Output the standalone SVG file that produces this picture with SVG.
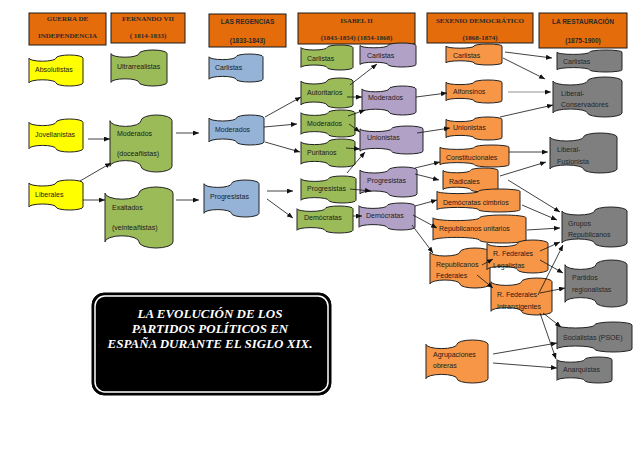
<svg xmlns="http://www.w3.org/2000/svg" xmlns:xlink="http://www.w3.org/1999/xlink" width="638" height="452" viewBox="0 0 638 452">
<style>
.hd{fill:#E46C0A;stroke:#1a1a1a;stroke-width:1}
.hs{font-family:"Liberation Serif",serif;font-weight:bold;font-size:7px;fill:#2a2a2a;text-anchor:middle}
.hn{font-family:"Liberation Sans",sans-serif;font-weight:bold;font-size:6.5px;fill:#2a2a2a;text-anchor:middle}
.t{font-family:"Liberation Sans",sans-serif;font-size:7px;fill:#1a1a1a}
.tg{font-family:"Liberation Sans",sans-serif;font-size:7px;fill:#262626}
.y{fill:#FFFF00;stroke:#222}
.g{fill:#9BBB59;stroke:#222}
.b{fill:#95B3D7;stroke:#222}
.p{fill:#B2A1C7;stroke:#222}
.o{fill:#F79646;stroke:#222}
.k{fill:#7F7F7F;stroke:#222}
.c line{stroke:#111;stroke-width:0.8;marker-end:url(#ah)}
.ttl{font-family:"Liberation Serif",serif;font-style:italic;font-weight:bold;font-size:13px;fill:#fff;text-anchor:middle}
</style>
<defs>
<path id="tape" vector-effect="non-scaling-stroke" stroke-width="1" d="M0,10 A25,10 0 0 0 50,10 A25,10 0 0 1 100,10 L100,90 A25,10 0 0 1 50,90 A25,10 0 0 0 0,90 Z"/>
<marker id="ah" markerWidth="6" markerHeight="5" refX="6" refY="2.5" orient="auto" markerUnits="userSpaceOnUse"><path d="M0,0 L6,2.5 L0,5 z" fill="#111"/></marker>
</defs>
<rect width="638" height="452" fill="#fff"/>

<g id="headers">
<g id="h-guerra"><rect class="hd" x="29" y="13" width="77" height="32"/><text class="hs" x="67.5" y="21">GUERRA DE</text><text class="hs" x="67.5" y="38">INDEPENDENCIA</text></g>
<g id="h-fernando"><rect class="hd" x="111" y="13" width="74" height="30"/><text class="hs" x="148" y="21">FERNANDO VII</text><text class="hs" x="148" y="38">( 1814-1833)</text></g>
<g id="h-regencias"><rect class="hd" x="209" y="14" width="77" height="33"/><text class="hn" x="247.5" y="24">LAS REGENCIAS</text><text class="hn" x="247.5" y="43">(1833-1843)</text></g>
<g id="h-isabel"><rect class="hd" x="298" y="13" width="117" height="31"/><text class="hs" x="356.5" y="23">ISABEL II</text><text class="hs" x="356.5" y="40">(1843-1854) (1854-1868)</text></g>
<g id="h-sexenio"><rect class="hd" x="427" y="13" width="106" height="30"/><text class="hs" x="480" y="23">SEXENIO  DEMOCRÁTICO</text><text class="hs" x="480" y="40">(1868-1874)</text></g>
<g id="h-restauracion"><rect class="hd" x="539" y="13" width="88" height="35"/><text class="hn" x="583" y="24">LA RESTAURACIÓN</text><text class="hn" x="583" y="43">(1875-1900)</text></g>
</g>

<g id="n-absolutistas"><use xlink:href="#tape" class="y" transform="translate(29 55) scale(0.54 0.31)"/><text class="t" x="35" y="72">Absolutistas</text></g>
<g id="n-jovellanistas"><use xlink:href="#tape" class="y" transform="translate(29 119) scale(0.54 0.33)"/><text class="t" x="35" y="137">Jovellanistas</text></g>
<g id="n-liberales"><use xlink:href="#tape" class="y" transform="translate(29 180) scale(0.54 0.30)"/><text class="t" x="35" y="197">Liberales</text></g>

<g id="n-ultrarrealistas"><use xlink:href="#tape" class="g" transform="translate(111 50) scale(0.56 0.36)"/><text class="t" x="117" y="69">Ultrarrealistas</text></g>
<g id="n-moderados-doce"><use xlink:href="#tape" class="g" transform="translate(110 115) scale(0.62 0.57)"/><text class="t" x="117" y="136">Moderados</text><text class="t" x="117" y="156">(doceañistas)</text></g>
<g id="n-exaltados"><use xlink:href="#tape" class="g" transform="translate(105 187) scale(0.68 0.61)"/><text class="t" x="112" y="210">Exaltados</text><text class="t" x="112" y="230">(veinteañistas)</text></g>

<g id="n-carlistas-reg"><use xlink:href="#tape" class="b" transform="translate(209 54) scale(0.54 0.28)"/><text class="t" x="215" y="70">Carlistas</text></g>
<g id="n-moderados-reg"><use xlink:href="#tape" class="b" transform="translate(209 115) scale(0.55 0.30)"/><text class="t" x="215" y="132">Moderados</text></g>
<g id="n-progresistas-reg"><use xlink:href="#tape" class="b" transform="translate(204 180) scale(0.55 0.37)"/><text class="t" x="210" y="199">Progresistas</text></g>

<g id="n-carlistas-is1"><use xlink:href="#tape" class="g" transform="translate(301 45) scale(0.52 0.25)"/><text class="t" x="307" y="61">Carlistas</text></g>
<g id="n-autoritarios"><use xlink:href="#tape" class="g" transform="translate(301 78) scale(0.52 0.30)"/><text class="t" x="307" y="94.5">Autoritarios</text></g>
<g id="n-moderados-is1"><use xlink:href="#tape" class="g" transform="translate(301 110) scale(0.54 0.27)"/><text class="t" x="307" y="126">Moderados</text></g>
<g id="n-puritanos"><use xlink:href="#tape" class="g" transform="translate(301 139) scale(0.54 0.28)"/><text class="t" x="307" y="154.5">Puritanos</text></g>
<g id="n-progresistas-is1"><use xlink:href="#tape" class="g" transform="translate(301 176) scale(0.55 0.27)"/><text class="t" x="307" y="190.5">Progresistas</text></g>
<g id="n-democratas-is1"><use xlink:href="#tape" class="g" transform="translate(297 206) scale(0.56 0.27)"/><text class="t" x="304" y="219.5">Demócratas</text></g>

<g id="n-carlistas-is2"><use xlink:href="#tape" class="p" transform="translate(360 43) scale(0.56 0.24)"/><text class="t" x="367" y="57.5">Carlistas</text></g>
<g id="n-moderados-is2"><use xlink:href="#tape" class="p" transform="translate(362 86) scale(0.54 0.29)"/><text class="t" x="368" y="99.5">Moderados</text></g>
<g id="n-unionistas-is2"><use xlink:href="#tape" class="p" transform="translate(360 126) scale(0.63 0.28)"/><text class="t" x="367" y="139.5">Unionistas</text></g>
<g id="n-progresistas-is2"><use xlink:href="#tape" class="p" transform="translate(360 167) scale(0.57 0.30)"/><text class="t" x="367" y="182.5">Progresistas</text></g>
<g id="n-democratas-is2"><use xlink:href="#tape" class="p" transform="translate(359 203) scale(0.56 0.27)"/><text class="t" x="366" y="217.5">Demócratas</text></g>

<g id="n-carlistas-sex"><use xlink:href="#tape" class="o" transform="translate(446 44) scale(0.56 0.21)"/><text class="t" x="453" y="57.5">Carlistas</text></g>
<g id="n-alfonsinos"><use xlink:href="#tape" class="o" transform="translate(446 80) scale(0.56 0.23)"/><text class="t" x="453" y="93.5">Alfonsinos</text></g>
<g id="n-unionistas-sex"><use xlink:href="#tape" class="o" transform="translate(446 117) scale(0.56 0.23)"/><text class="t" x="453" y="130">Unionistas</text></g>
<g id="n-constitucionales"><use xlink:href="#tape" class="o" transform="translate(440 145) scale(0.69 0.22)"/><text class="t" x="446" y="159.5">Constitucionales</text></g>
<g id="n-radicales"><use xlink:href="#tape" class="o" transform="translate(443 168) scale(0.55 0.24)"/><text class="t" x="449" y="183.5">Radicales</text></g>
<g id="n-democratas-cimbrios"><use xlink:href="#tape" class="o" transform="translate(437 189) scale(0.83 0.23)"/><text class="t" x="443" y="204.5">Demócratas cimbrios</text></g>
<g id="n-rep-unitarios"><use xlink:href="#tape" class="o" transform="translate(433 215) scale(0.93 0.28)"/><text class="t" x="439" y="230.5">Republicanos unitarios</text></g>
<g id="n-rep-federales"><use xlink:href="#tape" class="o" transform="translate(430 248) scale(0.60 0.40)"/><text class="t" x="436" y="266.5">Republicanos</text><text class="t" x="436" y="278">Federales</text></g>
<g id="n-rf-legalistas"><use xlink:href="#tape" class="o" transform="translate(487 240) scale(0.61 0.33)"/><text class="t" x="493" y="255.5">R. Federales</text><text class="t" x="493" y="267.5">Legalistas</text></g>
<g id="n-rf-intransigentes"><use xlink:href="#tape" class="o" transform="translate(491 278) scale(0.61 0.37)"/><text class="t" x="497" y="296.5">R. Federales</text><text class="t" x="497" y="308.5">Intransigentes</text></g>
<g id="n-agrupaciones"><use xlink:href="#tape" class="o" transform="translate(426 340) scale(0.62 0.43)"/><text class="t" x="433" y="356.5">Agrupaciones</text><text class="t" x="433" y="367.5">obreras</text></g>

<g id="n-carlistas-res"><use xlink:href="#tape" class="k" transform="translate(557 50) scale(0.65 0.22)"/><text class="tg" x="563" y="63.5">Carlistas</text></g>
<g id="n-liberal-conservadores"><use xlink:href="#tape" class="k" transform="translate(553 77) scale(0.69 0.40)"/><text class="tg" x="561" y="95.5">Liberal-</text><text class="tg" x="561" y="106.5">Conservadores</text></g>
<g id="n-liberal-fusionista"><use xlink:href="#tape" class="k" transform="translate(550 133) scale(0.67 0.40)"/><text class="tg" x="557" y="151.5">Liberal-</text><text class="tg" x="557" y="163.5">Fusionista</text></g>
<g id="n-grupos-republicanos"><use xlink:href="#tape" class="k" transform="translate(562 207) scale(0.65 0.40)"/><text class="tg" x="568" y="225.5">Grupos</text><text class="tg" x="568" y="236.5">Republicanos</text></g>
<g id="n-partidos-regionalistas"><use xlink:href="#tape" class="k" transform="translate(565 260) scale(0.62 0.47)"/><text class="tg" x="572" y="279.5">Partidos</text><text class="tg" x="572" y="291.5">regionalistas</text></g>
<g id="n-socialistas"><use xlink:href="#tape" class="k" transform="translate(557 322) scale(0.75 0.30)"/><text class="tg" x="563" y="339.5">Socialistas (PSOE)</text></g>
<g id="n-anarquistas"><use xlink:href="#tape" class="k" transform="translate(557 357) scale(0.55 0.26)"/><text class="tg" x="563" y="371.5">Anarquistas</text></g>

<g id="connectors" class="c">
<line x1="88" y1="139" x2="110" y2="139"/>
<line x1="80" y1="181" x2="111" y2="163"/>
<line x1="83" y1="200" x2="105" y2="200"/>
<line x1="176" y1="133" x2="199" y2="133"/>
<line x1="176" y1="200" x2="199" y2="200"/>
<line x1="265" y1="117" x2="301" y2="97"/>
<line x1="264" y1="127" x2="297" y2="124"/>
<line x1="265" y1="142" x2="300" y2="152"/>
<line x1="267" y1="191" x2="293" y2="191"/>
<line x1="267" y1="199" x2="293" y2="218"/>
<line x1="350" y1="85" x2="377" y2="64"/>
<line x1="347" y1="97" x2="362" y2="97"/>
<line x1="348" y1="116" x2="365" y2="110"/>
<line x1="349" y1="124" x2="360" y2="132"/>
<line x1="346" y1="148" x2="360" y2="149"/>
<line x1="347" y1="173" x2="365" y2="152"/>
<line x1="350" y1="189" x2="371" y2="191"/>
<line x1="353" y1="216" x2="362" y2="216"/>
<line x1="416" y1="97" x2="447" y2="93"/>
<line x1="417" y1="133" x2="450" y2="128"/>
<line x1="415" y1="168" x2="440" y2="162"/>
<line x1="415" y1="174" x2="439" y2="180"/>
<line x1="415" y1="206" x2="437" y2="200"/>
<line x1="413" y1="215" x2="437" y2="228"/>
<line x1="412" y1="225" x2="433" y2="253"/>
<line x1="505" y1="52" x2="552" y2="58"/>
<line x1="503" y1="58" x2="545" y2="79"/>
<line x1="508" y1="92" x2="551" y2="92" style="stroke:#777"/>
<line x1="500" y1="117" x2="553" y2="105"/>
<line x1="509" y1="152" x2="548" y2="152"/>
<line x1="500" y1="176" x2="546" y2="162"/>
<line x1="508" y1="180" x2="560" y2="212"/>
<line x1="522" y1="205" x2="557" y2="220"/>
<line x1="527" y1="230" x2="560" y2="228"/>
<line x1="482" y1="265" x2="493" y2="259"/>
<line x1="477" y1="275" x2="493" y2="288"/>
<line x1="540" y1="251" x2="560" y2="242"/>
<line x1="540" y1="260" x2="563" y2="273"/>
<line x1="538" y1="295" x2="563" y2="245"/>
<line x1="540" y1="293" x2="565" y2="288"/>
<line x1="543" y1="313" x2="561" y2="327"/>
<line x1="540" y1="313" x2="556" y2="359"/>
<line x1="493" y1="354" x2="557" y2="343"/>
<line x1="493" y1="363" x2="557" y2="368"/>
</g>

<g id="title">
<rect x="92" y="293" width="239" height="102" rx="12" fill="#000" stroke="#000" stroke-width="1"/>
<rect x="95" y="296" width="233" height="96" rx="10" fill="none" stroke="#fff" stroke-width="1.5"/>
<text class="ttl" x="210" y="318">LA EVOLUCIÓN DE LOS</text>
<text class="ttl" x="210" y="333">PARTIDOS POLÍTICOS EN</text>
<text class="ttl" x="210" y="348">ESPAÑA DURANTE EL SIGLO XIX.</text>
</g>
</svg>
